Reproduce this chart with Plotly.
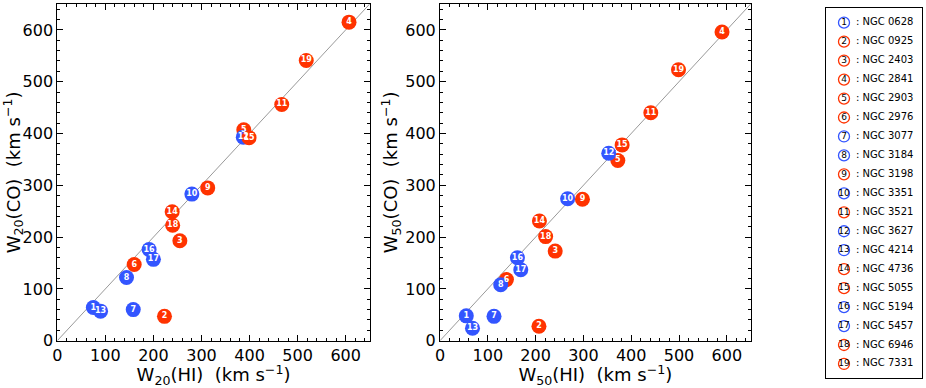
import plotly.graph_objects as go

# galaxies, numbered 1..19
galaxies = ["NGC 0628", "NGC 0925", "NGC 2403", "NGC 2841", "NGC 2903", "NGC 2976",
            "NGC 3077", "NGC 3184", "NGC 3198", "NGC 3351", "NGC 3521", "NGC 3627",
            "NGC 4214", "NGC 4736", "NGC 5055", "NGC 5194", "NGC 5457", "NGC 6946",
            "NGC 7331"]
group = ["b", "r", "r", "r", "r", "r", "b", "b", "r", "b",
         "r", "b", "b", "r", "r", "b", "b", "r", "r"]

# W20 widths (km/s)
w20_hi = [75, 223, 255, 607, 388, 160, 158, 144, 313, 280,
          467, 387, 90, 239, 399, 191, 200, 240, 518]
w20_co = [64, 47, 193, 615, 407, 147, 60, 122, 295, 283,
          456, 393, 57, 249, 392, 176, 157, 223, 541]

# W50 widths (km/s)
w50_hi = [55, 207, 241, 590, 372, 139, 113, 127, 298, 267,
          441, 353, 68, 208, 381, 162, 169, 221, 499]
w50_co = [48, 28, 173, 596, 348, 118, 47, 108, 273, 274,
          440, 362, 24, 231, 378, 160, 137, 201, 523]

one_to_one = [0, 650]

COLORS = {"r": "#ff3300", "b": "#3355ff"}
FONT = "DejaVu Sans"
W, H = 926, 388
ML, MR, MT, MB = 57, 4, 4, 10

nums = [str(i + 1) for i in range(len(galaxies))]
cols = [COLORS[g] for g in group]

fig = go.Figure()

for xa, ya, xs, ys in [("x", "y", w20_hi, w20_co), ("x2", "y2", w50_hi, w50_co)]:
    fig.add_trace(go.Scatter(
        x=one_to_one, y=one_to_one, mode="lines", xaxis=xa, yaxis=ya,
        line=dict(color="#999999", width=1), showlegend=False, hoverinfo="skip"))
    fig.add_trace(go.Scatter(
        x=xs, y=ys, mode="markers+text", xaxis=xa, yaxis=ya,
        marker=dict(size=15, color=cols, line=dict(width=0)),
        text=nums, textposition="middle center",
        textfont=dict(family=FONT, size=8, color="white", weight="bold"),
        showlegend=False))

# legend panel: one row per galaxy
rows = list(range(1, len(galaxies) + 1))
fig.add_trace(go.Scatter(
    x=[18] * len(rows), y=rows, mode="markers+text", xaxis="x3", yaxis="y3",
    marker=dict(size=11, color="white", line=dict(width=1.3, color=cols)),
    text=nums, textposition="middle center",
    textfont=dict(family=FONT, size=9, color="black"),
    showlegend=False, hoverinfo="skip"))
fig.add_trace(go.Scatter(
    x=[30] * len(rows), y=rows, mode="text", xaxis="x3", yaxis="y3",
    text=[": " + g for g in galaxies], textposition="middle right",
    textfont=dict(family=FONT, size=10, color="black"),
    showlegend=False, hoverinfo="skip"))


def xdom(a, b):
    span = W - ML - MR
    return [max(0, (a - ML) / span), min(1, (b - ML) / span)]


def ydom(top, bottom):
    span = H - MT - MB
    return [max(0, (H - MB - bottom) / span), min(1, (H - MB - top) / span)]


panel_y = ydom(4, 340.7)
ax_common = dict(
    range=[0, 650], showgrid=False, zeroline=False, showline=True, mirror="allticks",
    linecolor="black", linewidth=1, ticks="inside", ticklen=6, tickcolor="black",
    dtick=100, tick0=0, tickfont=dict(family=FONT, size=16, color="black"),
    minor=dict(ticks="inside", ticklen=3, dtick=20, tickcolor="black"),
    automargin=False,
)
legend_ax = dict(showticklabels=False, showgrid=False, zeroline=False, ticks="",
                 showline=True, mirror=True, linecolor="black", linewidth=1,
                 automargin=False)

fig.update_layout(
    width=W, height=H, margin=dict(l=ML, r=MR, t=MT, b=MB),
    paper_bgcolor="white", plot_bgcolor="white",
    font=dict(family=FONT, color="black"),
    xaxis=dict(domain=xdom(57.3, 369.7), anchor="y",
               title=dict(text="W<sub>20</sub>(HI)  (km s<sup>\u22121</sup>)",
                          font=dict(size=18), standoff=4), **ax_common),
    yaxis=dict(domain=panel_y, anchor="x",
               title=dict(text="W<sub>20</sub>(CO)  (km s<sup>\u22121</sup>)",
                          font=dict(size=18), standoff=2), **ax_common),
    xaxis2=dict(domain=xdom(440, 750.7), anchor="y2",
                title=dict(text="W<sub>50</sub>(HI)  (km s<sup>\u22121</sup>)",
                           font=dict(size=18), standoff=4), **ax_common),
    yaxis2=dict(domain=panel_y, anchor="x2",
                title=dict(text="W<sub>50</sub>(CO)  (km s<sup>\u22121</sup>)",
                           font=dict(size=18), standoff=2), **ax_common),
    xaxis3=dict(domain=xdom(826, 922), anchor="y3", range=[0, 96], **legend_ax),
    yaxis3=dict(domain=ydom(8, 378), anchor="x3", range=[19.74, 0.225], **legend_ax),
)

# page body has a default margin; drop it so the figure sits at the window origin
fig.write_html("out.html", config={"displayModeBar": False},
               post_script="document.body.style.margin='0';")
